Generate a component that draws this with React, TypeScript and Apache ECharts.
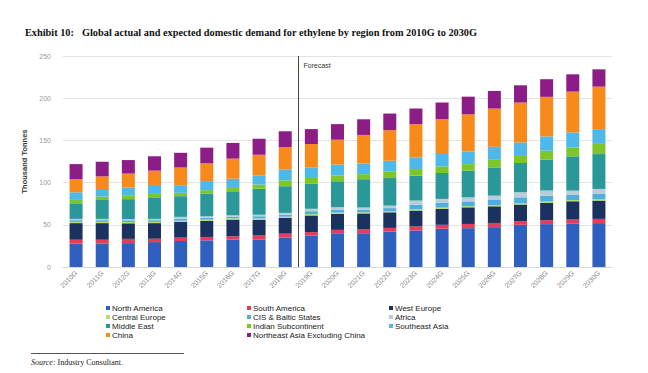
import React, { useEffect, useRef } from "react";
import * as echarts from "echarts";

const categories = ["2010G","2011G","2012G","2013G","2014G","2015G","2016G","2017G","2018G","2019G","2020G","2021G","2022G","2023G","2024G","2025G","2026G","2027G","2028G","2029G","2030G"];

const northAmerica = [27.6,27.6,28.3,29.5,30.8,31.6,32.4,32.4,34.8,37.4,40,40,42,43.3,45.3,46,47.2,50,50.8,51.2,52];
const southAmerica = [4.7,4.7,5,4,4,4,4,5,4.7,4,4,5,4.3,4.7,4.7,5,5,4.3,4.7,5,5];
const westEurope = [19.7,19.7,18.5,18.5,18.6,19,19.8,18.6,18.6,19.7,19,18.5,18.5,18.9,18.9,19.7,19.7,19.7,20.5,21.7,21.7];
const centralEurope = [1.5,1.5,1.5,1.5,1.5,1.5,1.5,1.5,1.5,1.5,1.5,1.5,1.5,1.5,1.5,1.5,1.5,1.5,1.5,1.5,1.5];
const cisBaltic = [2,2,2,2,2.5,2.3,2,2.5,2.5,3.5,3.5,3,3.5,5.5,5.5,5.5,6,7,7,6,6.3];
const africa = [1.5,1.5,1.5,1.5,2,1.7,1.5,2,2,2.9,2.9,2.5,2.9,4.8,4.8,4.8,5.1,6.1,6.1,5.1,6];
const middleEast = [18.5,22.4,23.6,25.6,24.5,27,28.5,30.8,31.6,29.5,30.7,33.5,32.7,29.5,30.7,31.5,33.5,34.6,36.6,40.6,41.3];
const indianSub = [4,4,4,4,4,4,5,5,7,7,6.7,6,7.5,7.9,7.9,7.9,9,9.4,10.6,10.6,13];
const southeastAsia = [9,9,9.8,10.6,9,10.7,10,10.7,13,12.6,13,12.6,13,13.8,14.6,15,15.4,15,16.9,17.7,16.5];
const china = [15.7,15,16.5,17,21,21,23.7,24.5,26.5,27.6,29.5,33.9,36.2,39.4,41.3,44,45.3,47.2,46.9,48.4,50.4];
const neAsia = [17.7,17.3,16,17,17.4,18.6,18.6,19,18.6,17.7,18.5,18.5,19.7,18.5,19.7,20.9,20.9,20.5,20.9,20.5,20.5];

const yTicks = { min: 0, max: 250, interval: 50 };

const seriesDefs = [
  { name: "North America", data: northAmerica, color: "#2F5FBF" },
  { name: "South America", data: southAmerica, color: "#E83A5A" },
  { name: "West Europe", data: westEurope, color: "#1B3160" },
  { name: "Central Europe", data: centralEurope, color: "#B5DC6A" },
  { name: "CIS & Baltic States", data: cisBaltic, color: "#4EAFDD" },
  { name: "Africa", data: africa, color: "#B9CCD8" },
  { name: "Middle East", data: middleEast, color: "#2A9899" },
  { name: "Indian Subcontinent", data: indianSub, color: "#7DC62A" },
  { name: "Southeast Asia", data: southeastAsia, color: "#4DB8EA" },
  { name: "China", data: china, color: "#F88A1C" },
  { name: "Northeast Asia Excluding China", data: neAsia, color: "#8C1C86" },
];

const legendCol1 = ["North America", "Central Europe", "Middle East", "China"];
const legendCol2 = ["South America", "CIS & Baltic States", "Indian Subcontinent", "Northeast Asia Excluding China"];
const legendCol3 = ["West Europe", "Africa", "Southeast Asia"];

export default function App() {
  const ref = useRef<HTMLDivElement>(null);
  useEffect(() => {
    if (!ref.current) return;
    const chart = echarts.init(ref.current, null, { renderer: "svg" });
    const legendBase = {
      orient: "vertical" as const,
      top: 304,
      itemWidth: 4,
      itemHeight: 4,
      itemGap: 1,
      icon: "rect",
      textStyle: { fontSize: 8, color: "#222", fontFamily: "Liberation Sans, Arial, sans-serif", padding: [0, 0, 0, -3] },
      padding: 0,
      selectedMode: false,
    };
    chart.setOption({
      animation: false,
      textStyle: { fontFamily: "Liberation Sans, Arial, sans-serif" },
      grid: { left: 63, right: 36, top: 56, bottom: 106 },
      legend: [
        { ...legendBase, left: 106, data: legendCol1 },
        { ...legendBase, left: 247, data: legendCol2 },
        { ...legendBase, left: 389, data: legendCol3 },
      ],
      xAxis: {
        type: "category",
        data: categories,
        axisLine: { lineStyle: { color: "#d9d9d9" } },
        axisTick: { show: false },
        axisLabel: { rotate: 45, fontSize: 7, color: "#888", margin: 5, interval: 0 },
      },
      yAxis: {
        type: "value",
        min: yTicks.min,
        max: yTicks.max,
        interval: yTicks.interval,
        name: "Thousand Tonnes",
        nameLocation: "middle",
        nameGap: 26,
        nameTextStyle: { fontSize: 7.5, fontWeight: "bold", color: "#333" },
        axisLabel: { fontSize: 7, color: "#999", margin: 12 },
        splitLine: { lineStyle: { color: "#e3e3e3" } },
        axisLine: { show: false },
        axisTick: { show: false },
      },
      series: seriesDefs.map((s) => ({
        type: "bar",
        name: s.name,
        stack: "total",
        data: s.data,
        barWidth: 13,
        itemStyle: { color: s.color },
      })),
    });
    const x1 = chart.convertToPixel({ xAxisIndex: 0 }, "2018G") as number;
    const x2 = chart.convertToPixel({ xAxisIndex: 0 }, "2019G") as number;
    const xf = Math.round((x1 + x2) / 2) + 0.5;
    const yTop = chart.convertToPixel({ yAxisIndex: 0 }, 250) as number;
    const yBot = chart.convertToPixel({ yAxisIndex: 0 }, 0) as number;
    chart.setOption({
      graphic: [
        { type: "text", left: 25, top: 27, style: { text: "Exhibit 10:", font: "bold 10.3px 'Liberation Serif', 'Times New Roman', serif", fill: "#111" } },
        { type: "text", left: 82, top: 27, style: { text: "Global actual and expected domestic demand for ethylene by region from 2010G to 2030G", font: "bold 10.3px 'Liberation Serif', 'Times New Roman', serif", fill: "#111" } },
        { type: "line", shape: { x1: xf, y1: yTop, x2: xf, y2: yBot }, style: { stroke: "#444", lineWidth: 1 } },
        { type: "text", x: xf + 5, y: yTop + 6, style: { text: "Forecast", font: "7px 'Liberation Sans', Arial, sans-serif", fill: "#333" } },
        { type: "line", shape: { x1: 31, y1: 353.5, x2: 184, y2: 353.5 }, style: { stroke: "#555", lineWidth: 1 } },
        { type: "text", left: 31, top: 358, style: { text: "{i|Source:} Industry Consultant.", rich: { i: { fontStyle: "italic", fontFamily: "Liberation Serif, serif", fontSize: 8, fill: "#222" } }, font: "8px 'Liberation Serif', serif", fill: "#222" } },
      ],
    });
    return () => chart.dispose();
  }, []);
  return <div ref={ref} style={{ width: 648, height: 373, position: "absolute", left: 0, top: 0 }} />;
}
